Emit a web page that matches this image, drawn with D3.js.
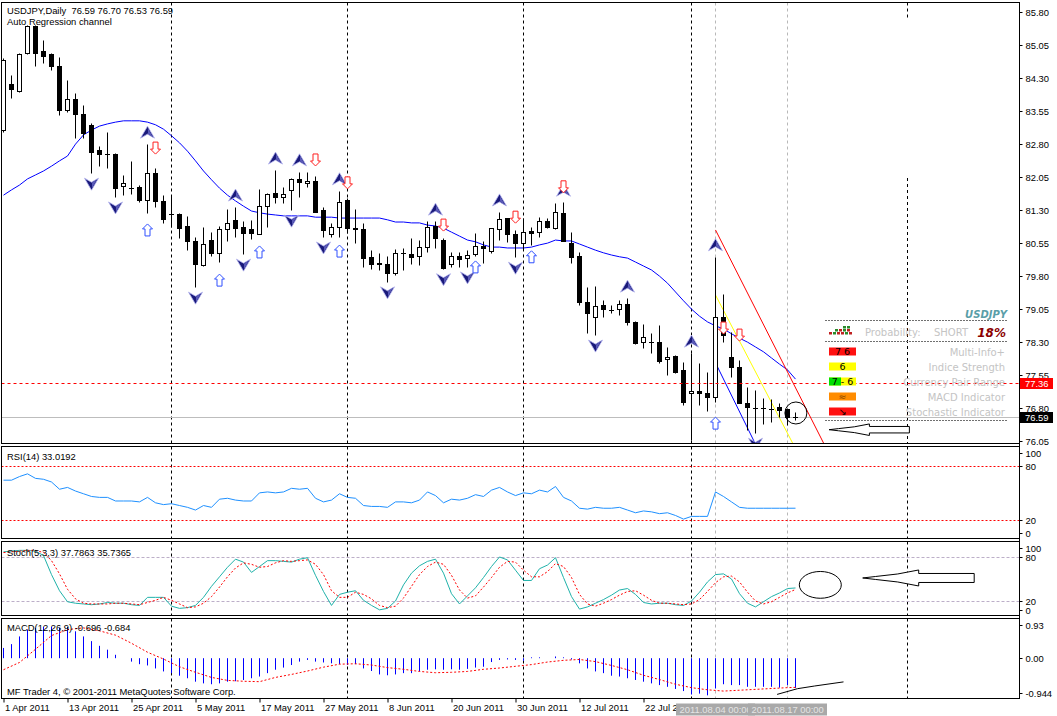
<!DOCTYPE html>
<html><head><meta charset="utf-8">
<script src="https://cdn.jsdelivr.net/npm/d3@7/dist/d3.min.js"></script>
<style>
html,body{margin:0;padding:0;background:#fff;}
svg{display:block;}
svg text{font-family:"Liberation Sans",Arial,sans-serif;font-size:9.4px;fill:#000;}
svg text.info{font-family:"DejaVu Sans",sans-serif;font-size:10px;fill:#c4c4c4;}
</style></head><body>
<svg id="chart" width="1057" height="716"></svg>
<script>
// ---------------- DATA ----------------
const openP=[83.11,84.16,84.00,84.86,85.48,84.91,84.84,84.57,83.57,83.82,
83.48,83.23,82.66,82.57,82.57,81.84,81.80,81.82,81.52,82.13,
81.50,81.20,81.20,80.93,80.59,80.04,80.61,80.32,80.86,81.07,
80.91,80.86,80.75,81.38,81.68,81.59,81.75,82.00,81.91,81.95,
81.29,80.75,80.91,81.52,80.88,80.86,80.23,80.08,80.07,79.86,
80.32,80.29,80.25,80.45,80.93,80.61,80.07,80.25,80.20,80.29,
80.48,80.36,80.86,81.11,80.75,80.54,80.82,80.79,81.04,80.88,
81.22,80.54,80.25,79.20,78.86,79.13,79.02,79.04,79.16,78.75,
78.29,78.30,78.29,77.91,77.97,77.66,77.14,77.18,77.14,77.04,
78.86,77.95,77.72,76.91,76.80,76.80,76.78,76.82,76.77,76.59];
const highP=[84.75,84.36,84.86,85.50,85.50,85.16,84.86,84.77,84.25,83.95,
83.68,83.27,82.75,83.07,82.58,82.09,82.41,81.86,82.79,82.25,
81.63,81.63,81.22,81.16,80.68,80.91,80.79,80.93,81.32,81.36,
81.04,81.07,81.77,81.68,82.20,81.82,82.02,82.16,82.16,82.07,
81.36,81.00,81.73,81.57,81.32,81.00,80.38,80.32,80.25,80.41,
80.43,80.66,80.61,81.04,81.04,80.66,80.34,80.34,80.38,80.77,
80.59,80.89,81.25,81.12,80.84,81.11,80.91,81.13,81.11,81.45,
81.47,80.79,80.34,79.54,79.57,79.25,79.13,79.25,79.29,78.76,
78.70,78.50,78.68,78.18,78.00,77.84,78.04,77.82,77.61,80.23,
79.38,78.52,77.88,77.27,77.20,77.02,77.00,76.91,76.79,76.70];
const lowP=[83.07,83.84,83.98,84.84,84.57,84.63,84.47,83.45,83.52,82.93,
82.93,82.13,82.29,82.25,81.59,81.63,81.66,81.47,81.23,81.36,
81.00,80.91,80.66,80.38,79.54,80.03,80.25,80.11,80.59,80.68,
80.29,80.63,80.74,80.91,81.45,81.45,81.29,81.59,81.82,81.24,
80.68,80.68,80.68,80.77,80.54,80.00,79.95,79.93,79.66,79.82,
79.93,80.07,80.04,80.34,80.43,79.96,80.00,80.00,80.00,80.25,
80.09,80.32,80.61,80.57,80.22,80.38,80.50,80.68,80.88,80.87,
80.58,80.09,79.13,78.50,78.45,78.86,78.95,78.91,78.68,78.25,
78.16,78.04,77.82,77.54,77.59,76.86,76.07,76.86,76.73,76.93,
78.29,77.50,76.90,76.29,76.22,76.43,76.47,76.59,76.41,76.53];
const closeP=[84.70,84.04,84.84,85.48,84.86,84.79,84.57,83.57,83.82,83.48,
83.04,82.61,82.57,82.56,81.79,81.91,81.79,81.52,82.13,81.50,
81.09,81.20,80.88,80.59,80.07,80.52,80.32,80.86,81.00,80.88,
80.77,80.77,81.38,81.66,81.59,81.66,82.00,81.93,81.95,81.25,
80.84,80.91,81.47,80.88,80.87,80.20,80.07,80.07,79.86,80.32,
80.31,80.23,80.45,80.91,80.66,79.97,80.25,80.18,80.27,80.48,
80.43,80.88,81.09,80.75,80.54,80.79,80.77,81.04,80.91,81.25,
80.59,80.23,79.20,78.95,79.11,79.04,79.01,79.16,78.75,78.27,
78.41,78.29,77.86,77.95,77.61,76.93,77.18,77.14,77.04,78.86,
78.45,77.72,76.91,76.82,76.79,76.79,76.77,76.75,76.59,76.59];
const maVals=[81.63,81.75,81.86,82.00,82.09,82.18,82.29,82.41,82.52,82.79,
83.00,83.11,83.20,83.25,83.29,83.32,83.32,83.32,83.29,83.23,
83.13,82.98,82.82,82.63,82.41,82.18,81.98,81.79,81.63,81.50,
81.38,81.27,81.23,81.20,81.18,81.16,81.16,81.16,81.16,81.13,
81.13,81.13,81.11,81.11,81.11,81.11,81.11,81.11,81.07,81.02,
81.02,81.00,81.00,80.95,80.93,80.88,80.79,80.70,80.61,80.57,
80.50,80.45,80.45,80.43,80.43,80.43,80.45,80.50,80.54,80.61,
80.59,80.59,80.52,80.45,80.38,80.32,80.27,80.23,80.20,80.11,
80.02,79.93,79.79,79.63,79.43,79.23,79.04,78.88,78.75,78.66,
78.59,78.48,78.38,78.29,78.18,78.07,77.93,77.79,77.66,77.45];
const rsiVals=[64,64,68,71,66,65,62,54,56,52,
49,46,45,45,41,41,41,40,45,39,
37,38,36,34,31,36,34,43,44,42,
41,41,50,51,50,51,55,54,55,44,
40,42,49,45,44,36,35,35,34,40,
40,39,42,51,47,39,43,42,44,48,
46,53,56,51,47,50,49,53,51,57,
45,41,33,32,34,33,33,34,31,28,
30,29,27,28,25,21,24,24,24,51,
46,40,34,33,33,33,33,33,33,33.02];
const stochMain=[87,88,89,89,88,82,56,34,19,17,
16,15,16,18,17,17,15,14,25,25,
25,13,10,11,14,25,40,53,66,77,
73,59,67,75,75,74,73,77,79,55,
33,14,29,32,34,21,14,8,10,20,
42,58,68,74,77,58,30,16,27,38,
52,67,80,76,62,48,48,64,69,79,
52,26,9,12,17,22,28,35,37,29,
18,16,17,17,15,14,20,32,46,56,
57,50,30,17,12,19,26,31,37,37.79];
const stochSignal=[86,87,88,89,89,86,75,57,36,23,
17,16,16,16,17,17,16,15,18,21,
25,21,16,11,12,17,26,39,53,65,
72,70,66,67,72,75,74,75,76,70,
56,34,25,25,32,29,23,14,11,13,
24,40,56,67,73,70,55,35,24,27,
39,52,66,74,73,62,53,53,60,71,
67,52,29,16,13,17,22,28,33,34,
28,21,17,17,16,15,16,22,33,45,
53,54,46,32,20,16,19,25,31,35.74];
const macdHist=[0.24,0.33,0.51,0.67,0.71,0.74,0.74,0.71,0.73,0.63,
0.51,0.40,0.29,0.20,0.08,0.00,-0.08,-0.14,-0.17,-0.24,
-0.31,-0.35,-0.41,-0.47,-0.55,-0.59,-0.61,-0.59,-0.55,-0.54,
-0.51,-0.47,-0.43,-0.35,-0.27,-0.22,-0.16,-0.08,-0.04,-0.08,
-0.10,-0.12,-0.14,-0.16,-0.14,-0.24,-0.30,-0.38,-0.40,-0.38,
-0.35,-0.35,-0.31,-0.27,-0.26,-0.27,-0.26,-0.27,-0.25,-0.22,
-0.20,-0.09,-0.04,-0.03,-0.04,-0.06,0.02,0.02,0.00,0.04,
0.02,-0.03,-0.12,-0.24,-0.31,-0.35,-0.41,-0.43,-0.47,-0.51,
-0.55,-0.59,-0.63,-0.67,-0.72,-0.77,-0.85,-0.83,-0.87,-0.71,
-0.61,-0.63,-0.63,-0.67,-0.67,-0.67,-0.67,-0.69,-0.63,-0.696];
const macdSigBars=[0,2,4,6,8,10,12,14,16,18,20,22,24,26,28,30,32,34,36,38,40,42,44,46,48,50,52,54,56,58,60,62,64,66,68,70,72,74,76,78,80,82,84,86,88,90,92,94,96,98,99];
const macdSigVals=[-0.27,-0.10,0.21,0.53,0.67,0.71,0.64,0.54,0.35,0.14,
-0.02,-0.20,-0.33,-0.45,-0.52,-0.54,-0.55,-0.45,-0.38,-0.30,
-0.21,-0.14,-0.13,-0.16,-0.22,-0.26,-0.31,-0.34,-0.33,-0.31,
-0.26,-0.23,-0.19,-0.15,-0.09,-0.05,-0.03,-0.08,-0.17,-0.27,
-0.40,-0.50,-0.61,-0.69,-0.74,-0.77,-0.75,-0.73,-0.71,-0.69,-0.684];
// time axis
const labelBars=[0,8,16,24,32,40,48,56,64,72,80];
const labelTexts=["1 Apr 2011","13 Apr 2011","25 Apr 2011","5 May 2011","17 May 2011","27 May 2011","8 Jun 2011","20 Jun 2011","30 Jun 2011","12 Jul 2011","22 Jul 2011"];
const separatorBars=[21,43,65,86,113];
const markerLineBars=[89,98];
const markerLineLabels=["2011.08.04 00:00","2011.08.17 00:00"];
const priceTicks=[85.80,85.05,84.30,83.55,82.80,82.05,81.30,80.55,79.80,79.05,78.30,77.55,76.80,76.05];
const rsiTicks=[100,80,20,0];
const stochTicks=[100,80,20,0];
const macdTicks=[0.93,0,-0.944];
const macdTickText=["0.93","0.00","-0.944"];
// signals / objects
const upFractalBars=[18,29,34,37,42,54,62,70,78,86,89];
const downFractalBars=[11,14,24,30,36,40,48,55,58,64,74,86,94];
const sellArrowBars=[19,39,43,55,64,70,90,92];
const sellArrowPrices=[82.70,82.43,81.91,80.95,81.13,81.82,78.61,78.45];
const buyArrowBars=[18,27,32,42,59,66,89];
const buyArrowPrices=[80.84,79.70,80.34,80.36,80.00,80.23,76.45];
const chanRed={bars:[89,103],prices:[80.84,75.82]};
const chanYellow={bars:[89,99],prices:[79.36,75.87]};
const chanBlue={bars:[89,94],prices:[77.82,75.97]};
const resistLevel=77.36, bidLevel=76.59;
const macdTrendBars=[96.7,99.25,101.4,105.0];
const macdTrendVals=[-0.848,-0.714,-0.651,-0.555];
const infoLabels=["Multi-Info+","Indice Strength","Currency Pair Range","MACD Indicator","Stochastic Indicator"];
const infoValues=["7 6","6","7 - 6","\u2248","\u2198"];
const infoColors=["#ff1010","#ffff00","#ffff00","#ff8c00","#ff1010"];

// ---------------- SCALES ----------------
const x=d3.scaleLinear().domain([0,1]).range([3.5,11.5]);
const yMain=d3.scaleLinear().domain([76.05,85.80]).range([440.7,11.7]);
const yRsi=d3.scaleLinear().domain([0,100]).range([538.1,447.6]);
const yStoch=d3.scaleLinear().domain([0,100]).range([615.7,542.3]);
const yMacd=d3.scaleLinear().domain([-0.944,0.93]).range([698.5,618.5]);

const svg=d3.select("#chart");
const defs=svg.append("defs");
const PX0=1.5, PX1=1019.5;
const P={main:{t:2.5,b:443.5,s:yMain},rsi:{t:446.5,b:538.5,s:yRsi},stoch:{t:541.5,b:615.5,s:yStoch},macd:{t:618.5,b:698.5,s:yMacd}};
svg.append("rect").attr("width",1057).attr("height",716).attr("fill","#fff");
Object.entries(P).forEach(([k,p])=>{
  defs.append("clipPath").attr("id","clip-"+k).append("rect")
    .attr("x",PX0+0.5).attr("y",p.t+0.5).attr("width",PX1-PX0-1).attr("height",p.b-p.t-1);
  p.g=svg.append("g").attr("clip-path",`url(#clip-${k})`);
});

// separators & marker lines
Object.entries(P).forEach(([k,p])=>{
  markerLineBars.forEach(b=>{
    p.g.append("line").attr("x1",x(b)).attr("x2",x(b)).attr("y1",p.t).attr("y2",p.b)
      .attr("stroke","#b8b8b8").attr("stroke-dasharray","3,3");
  });
  separatorBars.forEach(b=>{
    const segs=(k==="main"&&b===113)?[[p.t,18],[178,p.b]]:[[p.t,p.b]];
    segs.forEach(s=>p.g.append("line").attr("x1",x(b)).attr("x2",x(b)).attr("y1",s[0]).attr("y2",s[1])
      .attr("stroke","#000").attr("stroke-dasharray","3,3"));
  });
});

// ---------------- MAIN PANEL ----------------
const gm=P.main.g;
const yr=v=>Math.round(yMain(v))+0.5;
gm.append("line").attr("x1",PX0).attr("x2",PX1).attr("y1",yr(bidLevel)).attr("y2",yr(bidLevel)).attr("stroke","#bdbdbd");
gm.append("path").datum(maVals).attr("fill","none").attr("stroke","#0000ff").attr("stroke-width",1)
  .attr("d",d3.line().x((d,i)=>x(i)).y(d=>yMain(d)));
[[chanRed,"#ff0000"],[chanYellow,"#ffff00"],[chanBlue,"#0000ff"]].forEach(([c,col])=>{
  gm.append("line").attr("x1",x(c.bars[0])).attr("y1",yMain(c.prices[0])).attr("x2",x(c.bars[1])).attr("y2",yMain(c.prices[1]))
    .attr("stroke",col).attr("stroke-width",1);
});
// candles
d3.range(openP.length).forEach(i=>{
  const cx=x(i),o=openP[i],c=closeP[i];
  gm.append("line").attr("x1",cx).attr("x2",cx).attr("y1",yr(highP[i])).attr("y2",yr(lowP[i])).attr("stroke","#000");
  const top=yr(Math.max(o,c)),bot=yr(Math.min(o,c));
  if(bot-top<1){
    gm.append("line").attr("x1",cx-2.5).attr("x2",cx+2.5).attr("y1",top).attr("y2",top).attr("stroke","#000");
  } else {
    gm.append("rect").attr("x",cx-2).attr("y",top).attr("width",4).attr("height",bot-top)
      .attr("fill",c>=o?"#fff":"#000").attr("stroke","#000");
  }
});
// fractal arrowheads
function arrowhead(cx,cy,up){
  const s=up?1:-1;
  const pt=a=>a.map(p=>[cx+p[0],cy+p[1]*s].join(",")).join(" ");
  gm.append("polygon").attr("points",pt([[0,-6],[7,6],[0,2],[-7,6]])).attr("fill","#1a1a7a").attr("stroke","#b4b4f0").attr("stroke-width",0.8);
  gm.append("polygon").attr("points",pt([[0.5,-4],[5.5,5],[0.5,1.6]])).attr("fill","#5a5ab8");
}
upFractalBars.forEach(b=>arrowhead(x(b),yMain(highP[b])-12,true));
downFractalBars.forEach(b=>arrowhead(x(b),yMain(lowP[b])+11,false));
function hollow(cx,cy,up,col){
  const s=up?1:-1;
  const pts=[[0,-6],[5,-1],[2.5,-1],[2.5,6],[-2.5,6],[-2.5,-1],[-5,-1]].map(p=>[cx+p[0],cy+p[1]*s].join(",")).join(" ");
  gm.append("polygon").attr("points",pts).attr("fill","#fff").attr("stroke",col).attr("stroke-width",1);
}
sellArrowBars.forEach((b,i)=>hollow(x(b),yMain(sellArrowPrices[i]),false,"#ff2020"));
buyArrowBars.forEach((b,i)=>hollow(x(b),yMain(buyArrowPrices[i]),true,"#3050ff"));
// circle
gm.append("circle").attr("cx",x(99.05)).attr("cy",yMain(76.68)).attr("r",11).attr("fill","none").attr("stroke","#000");
// hollow left arrows
const arrowShape=[[0,0],[13,-1.5],[35,-4],[56,-8],[56,-4.5],[111.5,-4.5],[111.5,4.5],[56,4.5],[56,8],[35,4],[13,1.5]];
function leftArrow(g,tx,ty,k){
  g.append("polygon").attr("points",arrowShape.map(p=>[tx+p[0]*k,ty+p[1]*k].join(",")).join(" "))
    .attr("fill","#fff").attr("stroke","#000").attr("stroke-width",1);
}
leftArrow(gm,x(103.2),yMain(76.30),0.72);

// info panel
const gi=svg.append("g");
const dl=y=>gi.append("line").attr("x1",825).attr("x2",1008).attr("y1",y).attr("y2",y).attr("stroke","#707070").attr("stroke-dasharray","2,1");
gi.append("text").attr("class","info").attr("x",1007).attr("y",318).attr("text-anchor","end")
  .style("font-weight","bold").style("font-style","italic").style("fill","#5a9ea8").text("USDJPY");
dl(320.5); dl(341.5); dl(420.5);
[[843,326,"#2a8a2a"],[847,326,"#2a8a2a"],[835,329,"#2a8a2a"],[839,329,"#c02020"],[843,329,"#2a8a2a"],[847,329,"#c02020"],
 [829,332,"#c02020"],[833,332,"#2a8a2a"],[837,332,"#c02020"],[841,332,"#c02020"],[845,332,"#2a8a2a"],[849,332,"#c02020"]]
 .forEach(r=>gi.append("rect").attr("x",r[0]).attr("y",r[1]).attr("width",3).attr("height",2.5).attr("fill",r[2]));
gi.append("text").attr("class","info").attr("x",865).attr("y",336).text("Probability:");
gi.append("text").attr("class","info").attr("x",968).attr("y",336).attr("text-anchor","end").text("SHORT");
gi.append("text").attr("class","info").attr("x",1006).attr("y",336.5).attr("text-anchor","end")
  .style("font-weight","bold").style("font-style","italic").style("font-size","12px").style("fill","#8b0000").text("18%");
infoLabels.forEach((lab,i)=>{
  const cy=351.5+i*15;
  if(i===2){
    gi.append("rect").attr("x",829).attr("y",cy-4).attr("width",27).attr("height",8).attr("fill","#ffff00");
    gi.append("rect").attr("x",829).attr("y",cy-4).attr("width",12).attr("height",8).attr("fill","#00e000");
  } else {
    gi.append("rect").attr("x",829).attr("y",cy-4).attr("width",27).attr("height",8).attr("fill",infoColors[i]);
  }
  gi.append("text").attr("class","info").attr("x",842.5).attr("y",cy+3.5).attr("text-anchor","middle")
    .style("fill",i===3?"#8a4a00":"#000").style("font-size","9.5px").text(infoValues[i]);
  gi.append("text").attr("class","info").attr("x",1005).attr("y",cy+4).attr("text-anchor","end").text(lab);
});
// resistance dashed line (on top)
gm.append("line").attr("x1",PX0).attr("x2",PX1).attr("y1",yr(resistLevel)).attr("y2",yr(resistLevel))
  .attr("stroke","#ff0000").attr("stroke-dasharray","3,3");

// ---------------- RSI ----------------
const gr=P.rsi.g;
[80,20].forEach(v=>gr.append("line").attr("x1",PX0).attr("x2",PX1).attr("y1",Math.round(yRsi(v))+0.5).attr("y2",Math.round(yRsi(v))+0.5)
  .attr("stroke","#ff0000").attr("stroke-dasharray","2,2"));
gr.append("path").datum(rsiVals).attr("fill","none").attr("stroke","#1e90ff")
  .attr("d",d3.line().x((d,i)=>x(i)).y(d=>yRsi(d)));

// ---------------- STOCH ----------------
const gs=P.stoch.g;
[80,20].forEach(v=>gs.append("line").attr("x1",PX0).attr("x2",PX1).attr("y1",Math.round(yStoch(v))+0.5).attr("y2",Math.round(yStoch(v))+0.5)
  .attr("stroke","#bcaec8").attr("stroke-dasharray","3,2"));
gs.append("path").datum(stochMain).attr("fill","none").attr("stroke","#20b2aa")
  .attr("d",d3.line().x((d,i)=>x(i)).y(d=>yStoch(d)));
gs.append("path").datum(stochSignal).attr("fill","none").attr("stroke","#ff0000").attr("stroke-dasharray","2,2")
  .attr("d",d3.line().x((d,i)=>x(i)).y(d=>yStoch(d)));
gs.append("ellipse").attr("cx",x(102.1)).attr("cy",yStoch(42)).attr("rx",21).attr("ry",13.4).attr("fill","none").attr("stroke","#000");
leftArrow(gs,x(107.4),yStoch(51.4),1);

// ---------------- MACD ----------------
const gd=P.macd.g;
macdHist.forEach((v,i)=>{
  gd.append("line").attr("x1",x(i)).attr("x2",x(i)).attr("y1",yMacd(0)).attr("y2",yMacd(v)).attr("stroke","#0000ff");
});
gd.append("path").datum(macdSigVals).attr("fill","none").attr("stroke","#ff0000").attr("stroke-dasharray","2,2")
  .attr("d",d3.line().x((d,i)=>x(macdSigBars[i])).y(d=>yMacd(d)));
gd.append("path").datum(macdTrendVals).attr("fill","none").attr("stroke","#000")
  .attr("d",d3.line().x((d,i)=>x(macdTrendBars[i])).y(d=>yMacd(d)));

// ---------------- FRAMES ----------------
Object.values(P).forEach(p=>{
  svg.append("rect").attr("x",PX0).attr("y",p.t).attr("width",PX1-PX0).attr("height",p.b-p.t).attr("fill","none").attr("stroke","#000");
});
svg.append("line").attr("x1",PX1).attr("x2",PX1).attr("y1",2).attr("y2",699).attr("stroke","#000");

// ---------------- AXES ----------------
function rightAxis(scale,vals,fmt,p){
  const ax=d3.axisRight(scale).tickValues(vals).tickFormat(fmt).tickSize(3).tickPadding(3);
  const g=svg.append("g").attr("transform",`translate(${PX1},0)`).call(ax);
  g.select(".domain").remove();
  g.selectAll(".tick").attr("transform",d=>{
    let y=scale(d); y=Math.max(p.t+6.5,Math.min(p.b-6,y));
    return `translate(0,${Math.round(y)+0.5})`;
  });
  g.selectAll(".tick line").attr("stroke","#000");
  return g;
}
rightAxis(yMain,priceTicks,d3.format(".2f"),{t:-100,b:1000});
rightAxis(yRsi,rsiTicks,d3.format("d"),P.rsi);
rightAxis(yStoch,stochTicks,d3.format("d"),P.stoch);
rightAxis(yMacd,macdTicks,(d,i)=>macdTickText[i],P.macd);
// price tags
[[resistLevel,"#ff0000"],[bidLevel,"#000000"]].forEach(([v,col])=>{
  const yy=Math.round(yMain(v));
  svg.append("rect").attr("x",1020).attr("y",yy-5).attr("width",33).attr("height",11).attr("fill",col);
  svg.append("text").attr("x",1025).attr("y",yy+3.5).style("fill","#fff").text(d3.format(".2f")(v));
});
// time axis
const xa=d3.axisBottom(x).tickValues(labelBars).tickFormat((d,i)=>labelTexts[i]).tickSize(4).tickPadding(2);
const gx=svg.append("g").attr("transform","translate(0,698.5)").call(xa);
gx.select(".domain").remove();
gx.selectAll(".tick line").attr("stroke","#000");
gx.selectAll(".tick text").attr("text-anchor","start").attr("x",1);
markerLineBars.forEach((b,i)=>{
  svg.append("rect").attr("x",x(b)-39.5).attr("y",703.5).attr("width",79).attr("height",12).attr("fill","#a9a9a9");
  svg.append("text").attr("x",x(b)-36).attr("y",713).style("fill","#e4e4e4").text(markerLineLabels[i]);
});

// ---------------- TEXTS ----------------
svg.append("text").attr("x",7).attr("y",14).text("USDJPY,Daily\u00a0\u00a076.59 76.70 76.53 76.59");
svg.append("text").attr("x",7).attr("y",25).text("Auto Regression channel");
svg.append("text").attr("x",7).attr("y",459.5).text("RSI(14) 33.0192");
svg.append("text").attr("x",7).attr("y",555.5).text("Stoch(5,3,3) 37.7863 35.7365");
svg.append("text").attr("x",7).attr("y",631).text("MACD(12,26,9) -0.696 -0.684");
svg.append("text").attr("x",7).attr("y",694.5).text("MF Trader 4, \u00a9 2001-2011 MetaQuotes Software Corp.");
</script>
</body></html>
